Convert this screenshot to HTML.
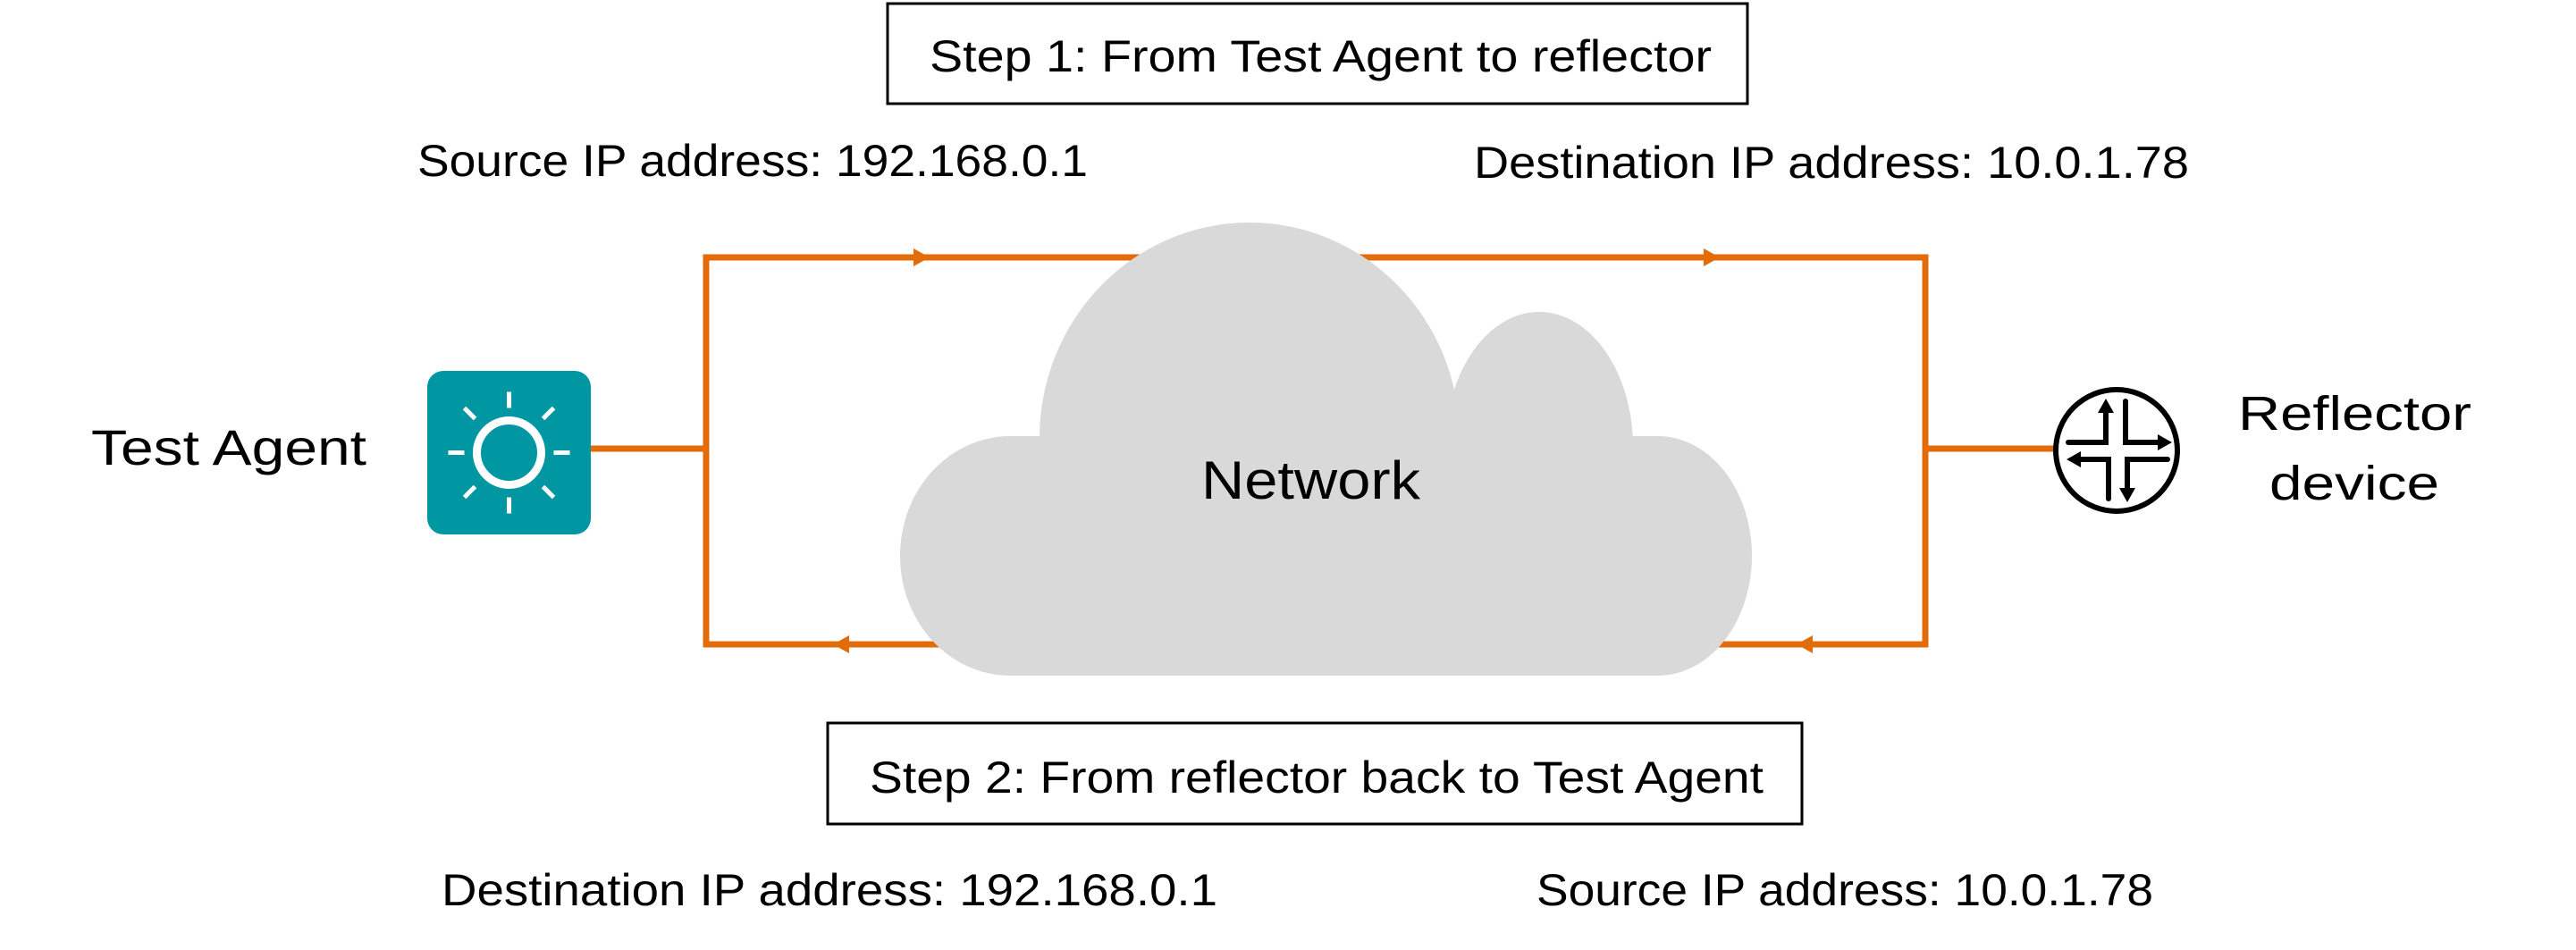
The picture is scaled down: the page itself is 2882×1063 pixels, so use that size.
<!DOCTYPE html>
<html><head><meta charset="utf-8"><style>html,body{margin:0;padding:0;background:#fff}svg{display:block}</style></head>
<body>
<svg width="2882" height="1063" viewBox="0 0 2882 1063" xmlns="http://www.w3.org/2000/svg" font-family="Liberation Sans, sans-serif" fill="#000">
<g stroke="#e36c0a" stroke-width="7" fill="none">
<path d="M790 288 H2154 V721 H790 Z"/>
<line x1="661" y1="502" x2="790" y2="502"/>
<line x1="2154" y1="502" x2="2299" y2="502"/>
</g>
<g fill="#e36c0a">
<polygon points="1040,288 1022,278 1022,298"/>
<polygon points="1924,288 1906,278 1906,298"/>
<polygon points="932,721 950,711 950,731"/>
<polygon points="2010,721 2028,711 2028,731"/>
</g>
<g fill="#d9d9d9">
<ellipse cx="1398" cy="490" rx="235" ry="241"/>
<ellipse cx="1722" cy="500" rx="105" ry="151"/>
<ellipse cx="1130" cy="622" rx="123" ry="134"/>
<ellipse cx="1855" cy="622" rx="105" ry="134"/>
<rect x="1130" y="488" width="725" height="268"/>
</g>
<text x="1344" y="558" font-size="60" textLength="245" lengthAdjust="spacingAndGlyphs">Network</text>
<rect x="993" y="4" width="962" height="112" fill="#fff" stroke="#000" stroke-width="3"/>
<text x="1040" y="80" font-size="50" textLength="875" lengthAdjust="spacingAndGlyphs">Step 1: From Test Agent to reflector</text>
<rect x="926" y="809" width="1090" height="113" fill="#fff" stroke="#000" stroke-width="3"/>
<text x="973" y="887" font-size="50" textLength="1000" lengthAdjust="spacingAndGlyphs">Step 2: From reflector back to Test Agent</text>
<g font-size="50">
<text x="467" y="197" textLength="750" lengthAdjust="spacingAndGlyphs">Source IP address: 192.168.0.1</text>
<text x="1649" y="199" textLength="800" lengthAdjust="spacingAndGlyphs">Destination IP address: 10.0.1.78</text>
<text x="494" y="1013" textLength="868" lengthAdjust="spacingAndGlyphs">Destination IP address: 192.168.0.1</text>
<text x="1719" y="1013" textLength="690" lengthAdjust="spacingAndGlyphs">Source IP address: 10.0.1.78</text>
<text x="102" y="520" font-size="56" textLength="308" lengthAdjust="spacingAndGlyphs">Test Agent</text>
<text x="2504" y="481" font-size="54" textLength="261" lengthAdjust="spacingAndGlyphs">Reflector</text>
<text x="2539" y="559" font-size="54" textLength="190" lengthAdjust="spacingAndGlyphs">device</text>
</g>
<rect x="478" y="415" width="183" height="183" rx="18" fill="#0097a3"/>
<g transform="translate(569.5,506.5)" fill="#fff" stroke="#fff">
<circle r="36" fill="none" stroke-width="9"/>
<circle r="22" fill="none" stroke="#0097a3" stroke-width="6" transform="translate(4,-4)"/>
<g stroke-width="5">
<line x1="0" y1="-50" x2="0" y2="-68"/><line x1="0" y1="50" x2="0" y2="68"/>
<line x1="-50" y1="0" x2="-68" y2="0"/><line x1="50" y1="0" x2="68" y2="0"/>
<line x1="-38" y1="-38" x2="-50" y2="-50"/><line x1="38" y1="-38" x2="50" y2="-50"/>
<line x1="-38" y1="38" x2="-50" y2="50"/><line x1="38" y1="38" x2="50" y2="50"/>
</g>
</g>
<circle cx="2368" cy="504" r="68" fill="#fff" stroke="#000" stroke-width="6"/>
<g stroke="#000" stroke-width="6" fill="none" stroke-linecap="round">
<path d="M2314 495 H2356 V458"/>
<path d="M2378 449 V495 H2420"/>
<path d="M2322 514 H2359 V558"/>
<path d="M2425 514 H2380 V555"/>
</g>
<g fill="#000">
<polygon points="2356,446 2347,462 2365,462"/>
<polygon points="2430,495 2414,486 2414,504"/>
<polygon points="2312,514 2328,505 2328,523"/>
<polygon points="2380,562 2371,546 2389,546"/>
</g>
</svg>
</body></html>
